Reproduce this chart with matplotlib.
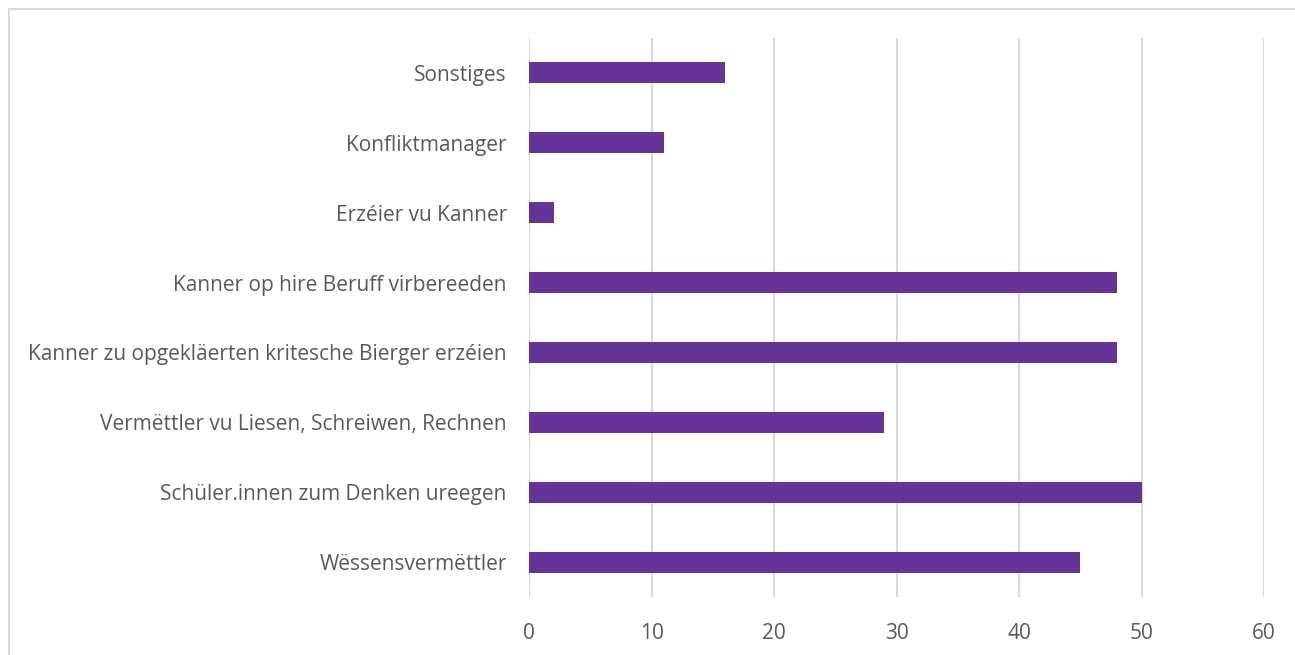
import matplotlib.pyplot as plt
from matplotlib.patches import Rectangle

categories = [
    "Wëssensvermëttler",
    "Schüler.innen zum Denken ureegen",
    "Vermëttler vu Liesen, Schreiwen, Rechnen",
    "Kanner zu opgekläerten kritesche Bierger erzéien",
    "Kanner op hire Beruff virbereeden",
    "Erzéier vu Kanner",
    "Konfliktmanager",
    "Sonstiges",
]
values = [45, 50, 29, 48, 48, 2, 11, 16]
x_ticks = [0, 10, 20, 30, 40, 50, 60]

plt.rcParams["font.family"] = ["Open Sans", "DejaVu Sans"]

fig = plt.figure(figsize=(12.95, 6.55), dpi=100)
ax = fig.add_axes([529 / 1295, 1 - 597 / 655, (1264 - 529) / 1295, (597 - 38) / 655])

ax.barh(categories, values, height=0.3, color="#663399", zorder=3)
ax.set_xlim(0, 60)
ax.set_ylim(-0.5, len(categories) - 0.5)
ax.set_xticks(x_ticks)

ax.grid(axis="x", color="#d9d9d9", linewidth=1.5, zorder=0)
for side in ["top", "right", "bottom", "left"]:
    ax.spines[side].set_visible(False)
ax.tick_params(axis="both", length=0, labelsize=15, labelcolor="#595959")
ax.tick_params(axis="y", pad=16)
ax.tick_params(axis="x", pad=19)

# light frame around the chart area
fig.patches.append(Rectangle((9 / 1295, -0.1), 1.2, 1 - 9 / 655 + 0.1,
                             transform=fig.transFigure, fill=False,
                             edgecolor="#d9d9d9", linewidth=1.5))

fig.savefig("out.png", dpi=100)
